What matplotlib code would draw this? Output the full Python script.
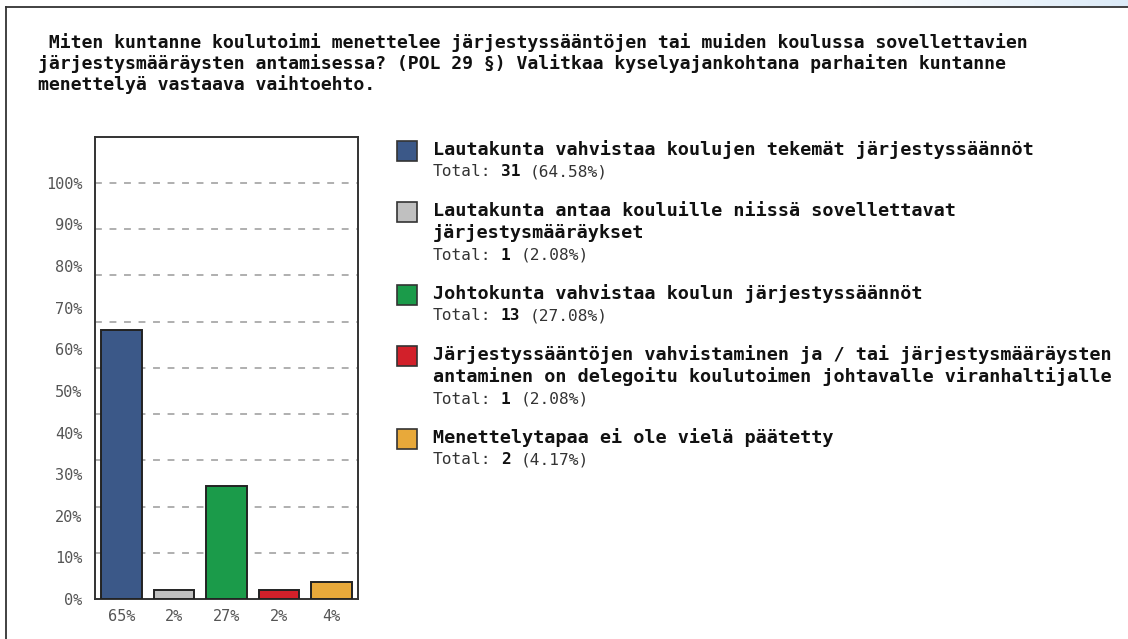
import numpy as np
import matplotlib
matplotlib.use('Agg')
import matplotlib.pyplot as plt
from matplotlib.patches import Rectangle

# Data
title_lines = [
    " Miten kuntanne koulutoimi menettelee järjestyssääntöjen tai muiden koulussa sovellettavien",
    "järjestysmääräysten antamisessa? (POL 29 §) Valitkaa kyselyajankohtana parhaiten kuntanne",
    "menettelyä vastaava vaihtoehto.",
]
categories = [
    "Lautakunta vahvistaa koulujen tekemät järjestyssäännöt",
    "Lautakunta antaa kouluille niissä sovellettavat\njärjestysmääräykset",
    "Johtokunta vahvistaa koulun järjestyssäännöt",
    "Järjestyssääntöjen vahvistaminen ja / tai järjestysmääräysten\nantaminen on delegoitu koulutoimen johtavalle viranhaltijalle",
    "Menettelytapaa ei ole vielä päätetty",
]
counts = [31, 1, 13, 1, 2]
percents = [64.58, 2.08, 27.08, 2.08, 4.17]
colors = ['#3b5888', '#c0c0c0', '#1b9b4a', '#d2202a', '#e8a93a']
y_ticks = [0, 10, 20, 30, 40, 50, 60, 70, 80, 90, 100]

W, H = 1128, 639
MONO = 'DejaVu Sans Mono'


def fx(x):
    return x / W


def fy(y):
    return 1 - y / H


fig = plt.figure(figsize=(W / 100, H / 100), dpi=100)
fig.patch.set_facecolor('white')

# light blue strip at the top right + page frame
strip = fig.add_axes([fx(860), fy(7), fx(W - 860), 7 / H])
strip.imshow(np.linspace(0, 1, 100).reshape(1, -1),
             cmap=matplotlib.colors.LinearSegmentedColormap.from_list('s', ['#ffffff', '#dcebf8']),
             aspect='auto', extent=[0, 1, 0, 1])
strip.axis('off')
fig.add_artist(plt.Line2D([fx(6), 1], [fy(7), fy(7)], color='#333333', lw=1.3))
fig.add_artist(plt.Line2D([fx(6), fx(6)], [fy(7), 0], color='#333333', lw=1.3))

# title
for i, line in enumerate(title_lines):
    fig.text(fx(38), fy(43 + i * 21), line, family=MONO, fontweight='bold',
             fontsize=13.1, color='#111111', va='center', ha='left')

# bar chart
ax = fig.add_axes([fx(95), fy(599), fx(358 - 95), (599 - 137) / H])
x = np.arange(len(percents))
for yg in np.linspace(0, 100, 10)[1:]:
    ax.axhline(yg, color='#9a9a9a', lw=1.1, ls=(0, (4.5, 5)), zorder=1)
ax.bar(x, percents, width=0.77, color=colors, edgecolor='#222222', linewidth=1.4, zorder=3)
ax.set_xlim(-0.5, 4.5)
ax.set_ylim(0, 111)
ax.set_yticks(y_ticks)
ax.set_yticklabels([f"{v}%" for v in y_ticks])
ax.set_xticks(x)
ax.set_xticklabels([f"{p:.0f}%" for p in percents])
ax.tick_params(length=0, labelsize=11, labelcolor='#555555')
ax.tick_params(axis='y', pad=9)
ax.tick_params(axis='x', pad=7)
for lab in ax.get_xticklabels() + ax.get_yticklabels():
    lab.set_family(MONO)
for s in ax.spines.values():
    s.set_color('#333333')
    s.set_linewidth(1.4)

# legend drawn as text blocks
adv_small = 0.602 * 11.6 * 100 / 72
y = 150
for cat, n, p, c in zip(categories, counts, percents, colors):
    lines = cat.split('\n')
    fig.add_artist(Rectangle((fx(397), fy(y + 11)), 20 / W, 20 / H, transform=fig.transFigure,
                             facecolor=c, edgecolor='#333333', lw=1.2))
    for line in lines:
        fig.text(fx(433), fy(y), line, family=MONO, fontweight='bold', fontsize=13.3,
                 color='#111111', va='center', ha='left')
        y += 22
    fig.text(fx(433), fy(y), "Total:", family=MONO, fontsize=11.6, color='#333333',
             va='center', ha='left')
    fig.text(fx(433 + 7 * adv_small), fy(y), str(n), family=MONO, fontweight='bold',
             fontsize=11.6, color='#111111', va='center', ha='left')
    fig.text(fx(433 + (8 + len(str(n))) * adv_small), fy(y), f"({p:.2f}%)", family=MONO,
             fontsize=11.6, color='#333333', va='center', ha='left')
    y += 22 + 17

fig.savefig('out.png', dpi=100)
